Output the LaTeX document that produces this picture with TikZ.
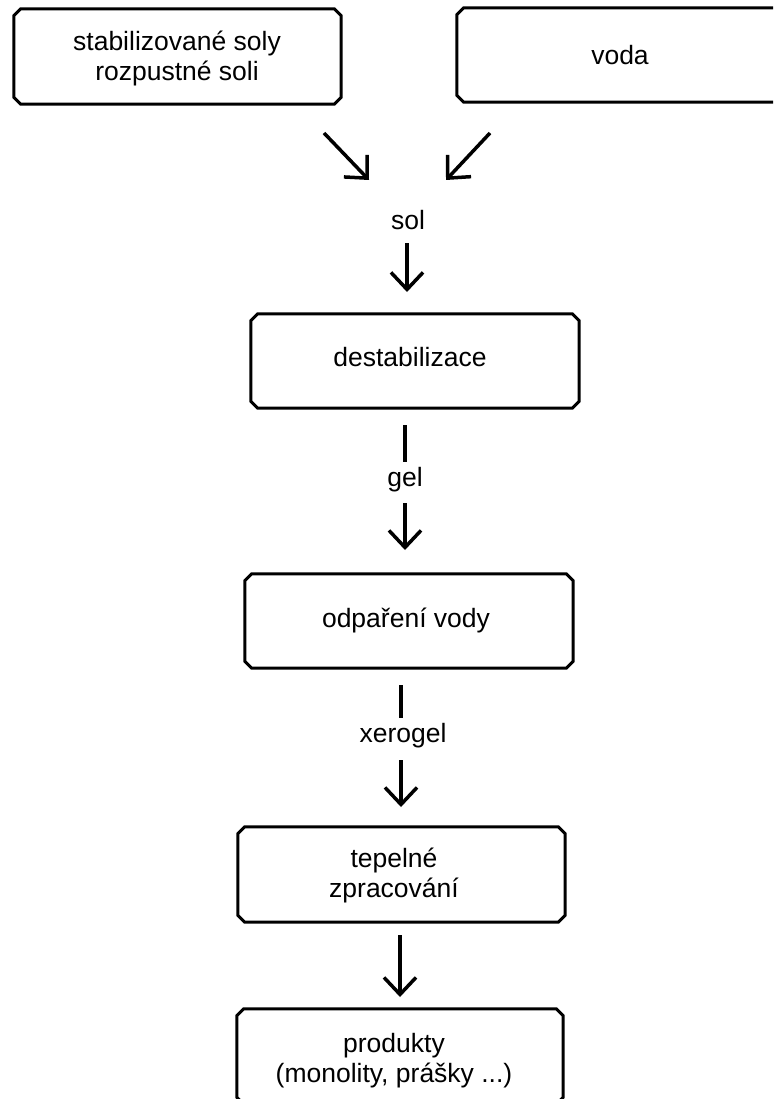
\documentclass[tikz,border=0pt]{standalone}
\usepackage{fontspec}
\setmainfont{Liberation Sans}
\usetikzlibrary{arrows.meta}
\tikzset{
  box/.style={draw=none, rectangle, inner sep=0pt, minimum width=#1, minimum height=95pt},
  box/.default=327pt,
  boxline/.style={draw=black, line width=3pt, line join=miter},
  txt/.style={font=\fontsize{26.5pt}{30pt}\selectfont, align=center, inner sep=0pt},
  conn/.style={line width=3.5pt, -{Straight Barb[length=17pt,width=32pt,line cap=butt]}},
  bar/.style={line width=3.5pt},
}
\newcommand\chambox[1]{%
  \draw[boxline] ([xshift=7pt]#1.north west) -- ([xshift=-7pt]#1.north east)
    -- ([yshift=-7pt]#1.north east) -- ([yshift=7pt]#1.south east)
    -- ([xshift=-7pt]#1.south east) -- ([xshift=7pt]#1.south west)
    -- ([yshift=7pt]#1.south west) -- ([yshift=-7pt]#1.north west) -- cycle;}
\begin{document}
\begin{tikzpicture}[x=1pt,y=-1pt]
\useasboundingbox (0,0) rectangle (773,1099);
\clip (0,0) rectangle (773,1099);
% boxes
\node[box=327pt] (b1) at (177.5,56.5) {};
\node[box=443pt, minimum height=94pt] (b2) at (678.5,55) {};
\node[box=328pt, minimum height=94pt] (b3) at (415,361) {};
\node[box=328pt, minimum height=94pt] (b4) at (409,621) {};
\node[box=327pt] (b5) at (401.5,874.5) {};
\node[box=326pt] (b6) at (400,1056.5) {};
\chambox{b1}
\chambox{b2}
\chambox{b3}
\chambox{b4}
\chambox{b5}
\chambox{b6}
% texts
\node[txt] (t1) at (177,58) {stabilizované soly\\rozpustné soli};
\node[txt] (t2) at (620,55) {voda};
\node[txt] (t3) at (410,357) {destabilizace};
\node[txt] (t4) at (406,620) {odpaření vody};
\node[txt] (t5) at (394,875) {tepelné\\zpracování};
\node[txt] (t6) at (394,1061) {produkty\\(monolity, prášky ...)};
\node[txt] (sol) at (408,220) {sol};
\node[txt] (gel) at (405,480) {gel};
\node[txt] (xero) at (403,736) {xerogel};
% connector end points
\coordinate (a1s) at (324,133);
\coordinate (a1e) at (369,180);
\coordinate (a2s) at (490,133);
\coordinate (a2e) at (446,180);
\coordinate (a3s) at (407,243);
\coordinate (a3e) at (407,292);
\coordinate (l1s) at (405,425);
\coordinate (l1e) at (405,462);
\coordinate (a4s) at (405,503);
\coordinate (a4e) at (405,550);
\coordinate (l2s) at (401,685);
\coordinate (l2e) at (401,718);
\coordinate (a5s) at (401,760);
\coordinate (a5e) at (401,807);
\coordinate (a6s) at (400,935);
\coordinate (a6e) at (400,997);
% connectors
\draw[conn] (a1s) -- (a1e);
\draw[conn] (a2s) -- (a2e);
\draw[conn] (a3s) -- (a3e);
\draw[bar] (l1s) -- (l1e);
\draw[conn] (a4s) -- (a4e);
\draw[bar] (l2s) -- (l2e);
\draw[conn] (a5s) -- (a5e);
\draw[conn] (a6s) -- (a6e);
\end{tikzpicture}
\end{document}
